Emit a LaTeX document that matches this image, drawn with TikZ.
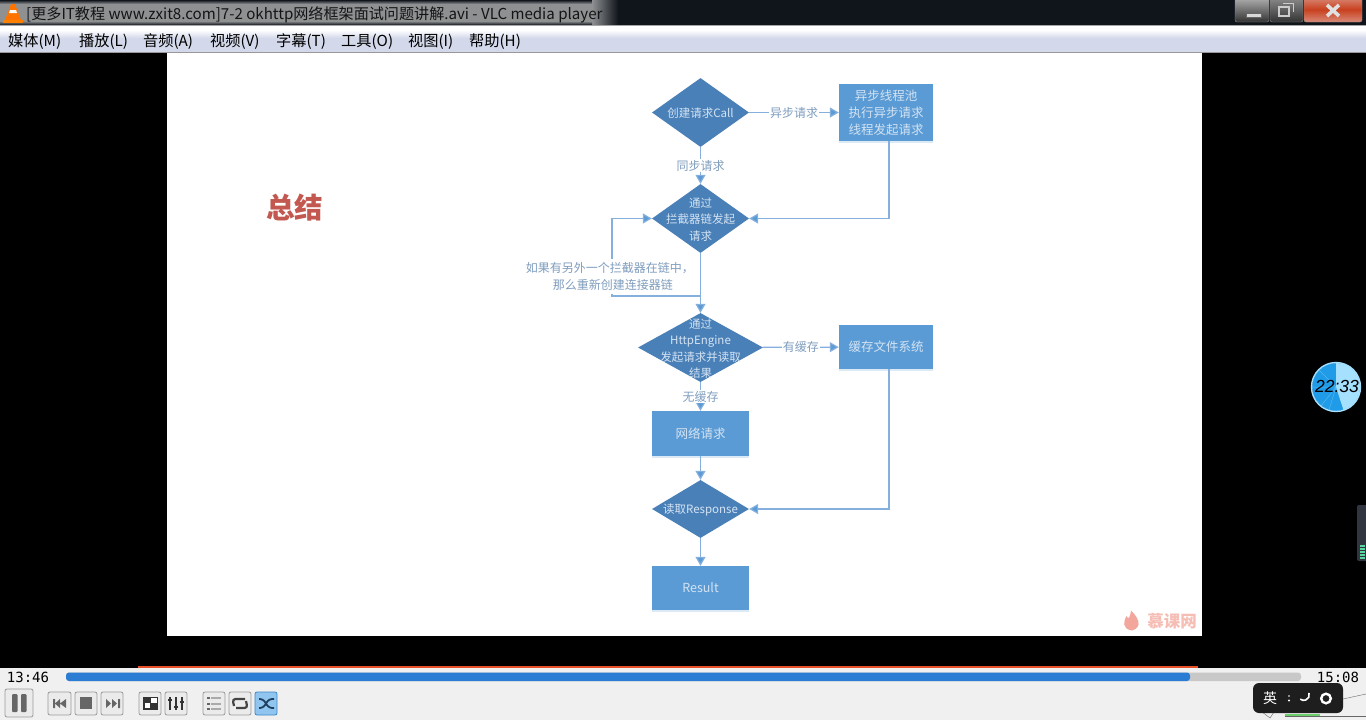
\documentclass[tikz,border=0pt]{standalone}
\usepackage{fontspec}
\setmainfont{Noto Sans CJK SC}
\newfontfamily\uifont{Noto Sans CJK SC}
\newfontfamily\timefont{DejaVu Sans Mono}
\newfontfamily\clockfont{Liberation Sans}
\usetikzlibrary{arrows.meta,shapes.geometric,shadows}
\definecolor{dia}{HTML}{4A80B8}
\definecolor{boxc}{HTML}{5B9BD5}
\definecolor{linec}{HTML}{85B0DE}
\definecolor{tipc}{HTML}{5B9BD5}
\definecolor{lab}{HTML}{7F9DBE}
\definecolor{intxt}{HTML}{D3E3F3}
\definecolor{barbg}{HTML}{F0F0F0}
\definecolor{btn}{HTML}{EBEBEB}
\definecolor{btnedge}{HTML}{9A9A9A}
\definecolor{ico}{HTML}{666666}
\definecolor{titledark}{HTML}{10151C}
\definecolor{halo}{HTML}{8E9092}
\definecolor{menubg}{HTML}{D3D9EA}
\definecolor{sumc}{HTML}{C2584F}
\definecolor{wmc}{HTML}{F3A79C}
\definecolor{wmt}{HTML}{F6BDB4}
\definecolor{clkd}{HTML}{1F9BE8}
\definecolor{clkm}{HTML}{55B6EE}
\definecolor{clkl}{HTML}{A6E0FF}
\definecolor{meterbg}{HTML}{30353F}
\definecolor{meterg}{HTML}{58D8A0}
\definecolor{redl}{HTML}{E8502A}
\definecolor{trackc}{HTML}{C8C8C8}
\definecolor{progc}{HTML}{2B7CD3}
\definecolor{dk}{HTML}{333333}
\definecolor{mid}{HTML}{AAAAAA}
\definecolor{loopc}{HTML}{444444}
\definecolor{shufb}{HTML}{8FC5EE}
\definecolor{shufe}{HTML}{3F86C8}
\definecolor{shufi}{HTML}{1F3F5F}
\definecolor{trayg}{HTML}{6CCF6C}
\definecolor{imebg}{HTML}{1E1E1E}
\definecolor{closem}{HTML}{C8401E}
\definecolor{closet}{HTML}{D98A78}
\tikzset{
  diam/.style={diamond,fill=dia,inner sep=0pt,text width=0pt},
  dtext/.style={inner sep=0pt,yshift=-1pt,text=intxt,align=center,font=\fontsize{11.5}{16.5}\selectfont},
  rbox/.style={rectangle,fill=boxc,inner sep=0pt,text=intxt,align=center,font=\fontsize{12.5}{17}\selectfont,
    general shadow={fill=boxc!35,shadow yshift=-1.5pt,opacity=.6}},
  conn/.style={draw=linec,line width=1.2pt,-{Triangle[length=9pt,width=10pt,fill=tipc]}},
  elab/.style={text=lab,font=\fontsize{12}{17}\selectfont,fill=white,inner xsep=1pt,inner ysep=1pt,align=center},
  elabtall/.style={elab,minimum height=18.5pt},
  menu/.style={anchor=west,inner sep=0pt,text=black,font=\uifont\fontsize{15.2}{16}\selectfont},
  tbtn/.style={draw=btnedge,fill=btn,rounded corners=2pt,line width=.8pt},
  timelab/.style={inner sep=0pt,text=black,font=\timefont\fontsize{14}{16}\selectfont},
}
\begin{document}
\begin{tikzpicture}[x=1pt,y=-1pt]
\useasboundingbox (0,0) rectangle (1366,720);
% window background
\fill[black] (0,0) rectangle (1366,720);
% title bar
\fill[titledark] (0,0) rectangle (1366,25);
\fill[halo] (0,4) rectangle (592,22);
\shade[top color=titledark,bottom color=halo] (0,0) rectangle (592,4);
\shade[left color=halo,right color=titledark] (592,0) rectangle (618,25);
\shade[top color=halo,bottom color=titledark] (0,21) rectangle (592,25);
\fill[black!35] (0,25) rectangle (1366,26);
% vlc cone
\fill[orange!90!red] (11,4) -- (15,4) -- (21,20) -- (5,20) -- cycle;
\fill[white] (10,10) -- (16,10) -- (17,13) -- (9,13) -- cycle;
\fill[orange] (3,20) rectangle (23,23);
\node[anchor=west,inner sep=0pt,text=black!92,font=\uifont\fontsize{15.1}{16}\selectfont] (title) at (26,15) {[更多IT教程 www.zxit8.com]7-2 okhttp网络框架面试问题讲解.avi - VLC media player};
% window buttons
\shade[top color=black!30,bottom color=black!80,draw=black!45,rounded corners=2pt] (1235,-3) rectangle (1269,22);
\shade[top color=black!45,bottom color=black!80,draw=black!45,rounded corners=2pt] (1270,-3) rectangle (1303,22);
\shade[top color=closet,bottom color=closet,middle color=closem,draw=black!45,rounded corners=2pt] (1304,-3) rectangle (1362,22);
\fill[white!85!black,draw=black!60] (1246,13) rectangle (1261,17);
\draw[white!80!black,line width=2pt] (1279,7) rectangle (1289,16);
\draw[white!80!black,line width=1pt] (1283,3.5) -- (1293,3.5) -- (1293,12);
\draw[white!88!black,line width=3.6pt] (1327,5) -- (1339,16) (1339,5) -- (1327,16);
% menu bar
\fill[white] (0,26) rectangle (1366,30);
\shade[top color=white,bottom color=menubg] (0,30) rectangle (1366,38);
\fill[menubg] (0,38) rectangle (1366,52);
\fill[black!40] (0,52) rectangle (1366,53);
\node[menu] (m1) at (8,41.5) {媒体(M)};
\node[menu] (m2) at (79,41.5) {播放(L)};
\node[menu] (m3) at (143,41.5) {音频(A)};
\node[menu] (m4) at (210,41.5) {视频(V)};
\node[menu] (m5) at (276,41.5) {字幕(T)};
\node[menu] (m6) at (341,41.5) {工具(O)};
\node[menu] (m7) at (408,41.5) {视图(I)};
\node[menu] (m8) at (469,41.5) {帮助(H)};
% slide
\fill[white] (167,53) rectangle (1202,636);
\node[inner sep=0pt,text=sumc,font=\bfseries\fontsize{28.5}{30}\selectfont] (summ) at (294.5,207.5) {总结};
% flowchart
\node[diam,minimum width=97pt,minimum height=69pt] (d1) at (700.5,112.5) {};
\node[dtext] (dt1) at (d1) {创建请求Call};
\node[rbox,minimum width=94pt,minimum height=57pt] (b1) at (886,112.5) {异步线程池\\执行异步请求\\线程发起请求};
\node[diam,minimum width=97pt,minimum height=69pt] (d2) at (700.5,218.5) {};
\node[dtext] (dt2) at (d2) {通过\\拦截器链发起\\请求};
\node[diam,minimum width=125pt,minimum height=69pt] (d3) at (700.5,347.5) {};
\node[dtext] (dt3) at (d3) {通过\\HttpEngine\\发起请求并读取\\结果};
\node[rbox,minimum width=94pt,minimum height=44pt] (b2) at (886,347) {缓存文件系统};
\node[rbox,minimum width=97pt,minimum height=45pt] (b3) at (700.5,433.5) {网络请求};
\node[diam,minimum width=97pt,minimum height=58pt] (d4) at (700.5,509) {};
\node[dtext] (dt4) at (d4) {读取Response};
\node[rbox,minimum width=97pt,minimum height=44pt] (b4) at (700.5,588) {Result};
\coordinate (loopa) at (700.5,296);
\coordinate (loopb) at (612,296);
\coordinate (loopc) at (612,218.5);
\coordinate (b1d) at (889,141);
\coordinate (b1c) at (889,218.5);
\coordinate (b2d) at (889,369);
\coordinate (b2c) at (889,509);
\draw[conn] (d1) -- (b1) node[elab,pos=.5] (l1) {异步请求};
\draw[conn] (d1) -- (d2) node[elab,pos=.5] (l2) {同步请求};
\draw[conn] (b1d) -- (b1c) -- (d2.east);
\draw[conn] (d2) -- (d3);
\draw[conn] (loopa) -- (loopb) -- (loopc) -- (d2.west);
\node[elabtall,anchor=east] (l3a) at (695,268.5) {如果有另外一个拦截器在链中，};
\node[elabtall,anchor=east] (l3b) at (674,285) {那么重新创建连接器链};
\draw[conn] (d3) -- (b2) node[elab,pos=.5] (l4) {有缓存};
\draw[conn] (d3) -- (b3) node[elab,pos=.5] (l5) {无缓存};
\draw[conn] (b3) -- (d4);
\draw[conn] (b2d) -- (b2c) -- (d4.east);
\draw[conn] (d4) -- (b4);
% watermark
\fill[wmc] (1132,630.5) .. controls (1121,629) and (1124,620) .. (1126.5,616) .. controls (1128.5,620) and (1130,618) .. (1131,610.5) .. controls (1137,616) and (1144,627) .. (1132,630.5) -- cycle;
\node[inner sep=0pt,text=wmt,font=\bfseries\fontsize{16.5}{17}\selectfont] (wm) at (1172,621) {慕课网};
% clock
\fill[clkd] (1336,387) circle (24);
\fill[clkl] (1336,387) -- (1336,363) arc[start angle=-90,end angle=72,radius=24] -- cycle;
\draw[clkm,line width=.5pt] (1336,387) -- (1319,370) (1336,387) -- (1312,387) (1336,387) -- (1321,406) (1336,387) -- (1329,410);
\draw[clkl,line width=1.4pt] (1336,387) circle (24.5);
\node[inner sep=0pt,text=black,font=\clockfont\itshape\fontsize{17.5}{18}\selectfont] (clk) at (1337,386.5) {22:33};
% right side meter
\fill[meterbg,rounded corners=2pt] (1357,505) rectangle (1368,561);
\foreach \my in {545,548,551,554,557}{\fill[meterg] (1360,\my) rectangle (1365,\my+1.5);}
% control bar
\fill[barbg] (0,668) rectangle (1366,720);
% red progress line
\fill[redl] (138,666) rectangle (1198,668.4);
\node[timelab] (t1) at (28,677) {13:46};
\node[timelab] (t2) at (1338,677) {15:08};
\fill[trackc,rounded corners=3pt] (66,672.5) rectangle (1301,681);
\fill[progc,rounded corners=3pt] (66,672.5) rectangle (1190,681);
% pause
\draw[tbtn] (5,689) rectangle (33,717);
\fill[ico,rounded corners=1pt] (12,694) rectangle (17.5,712);
\fill[ico,rounded corners=1pt] (21,694) rectangle (26.5,712);
% prev / stop / next
\draw[tbtn] (48,692) rectangle (71,715);
\draw[tbtn] (75,692) rectangle (97,715);
\draw[tbtn] (101,692) rectangle (123,715);
\fill[ico] (53,699) rectangle (55,708) (60,699) -- (60,708) -- (55,703.5) -- cycle (66,699) -- (66,708) -- (60,703.5) -- cycle;
\fill[ico] (80,697) rectangle (92,709);
\fill[ico] (118,699) rectangle (120,708) (112,699) -- (112,708) -- (117,703.5) -- cycle (106,699) -- (106,708) -- (111,703.5) -- cycle;
% frame / eq
\draw[tbtn] (139,692) rectangle (161,715);
\draw[tbtn] (165,692) rectangle (187,715);
\fill[dk] (143,697) rectangle (158,710);
\fill[white] (145,703) rectangle (150,708);
\fill[white] (151,698) rectangle (157,703);
\foreach \ex/\ey in {170/699,176/706,182/701}{
  \draw[dk,line width=1.4pt] (\ex,697) -- (\ex,710);
  \fill[dk] (\ex-2,\ey) rectangle (\ex+2,\ey+2);
}
% list / loop / shuffle
\draw[tbtn] (203,692) rectangle (225,715);
\draw[tbtn] (229,692) rectangle (251,715);
\draw[tbtn,fill=shufb,draw=shufe] (255,692) rectangle (277,715);
\foreach \ly in {698,703.5,709}{
  \fill[ico] (207,\ly-1) rectangle (209.5,\ly+1);
  \fill[mid] (211,\ly-1) rectangle (221,\ly+1);
}
\draw[loopc,line width=2.2pt,rounded corners=3pt] (234,706) -- (232.5,699) -- (245,699);
\draw[loopc,line width=2.2pt,rounded corners=3pt] (246,701) -- (247.5,708) -- (236,708);
\draw[shufi,line width=1.8pt,rounded corners=3pt] (259,699) -- (263,699) -- (269,708) -- (274,708);
\draw[shufi,line width=1.8pt,rounded corners=3pt] (259,708) -- (263,708) -- (269,699) -- (274,699);
% tray
\fill[barbg] (1285,700) rectangle (1366,716);
\draw[ico] (1343,699) -- (1366,694);
\draw[ico] (1285,716) -- (1366,716);
\fill[trayg] (1285,713.5) rectangle (1320,716);
\draw[ico,fill=barbg] (1262,712) -- (1270,718) -- (1274,712);
\fill[imebg,rounded corners=6pt] (1253,683) rectangle (1343,713);
\node[inner sep=0pt,text=white,font=\uifont\fontsize{14}{14}\selectfont] (ime) at (1270,698.5) {英};
\fill[white] (1289,696) circle (.9) (1289,700.5) circle (1.1);
\draw[white,line width=1.6pt] (1309,693) arc[start angle=-20,end angle=130,radius=5.5];
\draw[white,line width=2.4pt] (1326,698.5) circle (4.8);
\end{tikzpicture}
\end{document}
